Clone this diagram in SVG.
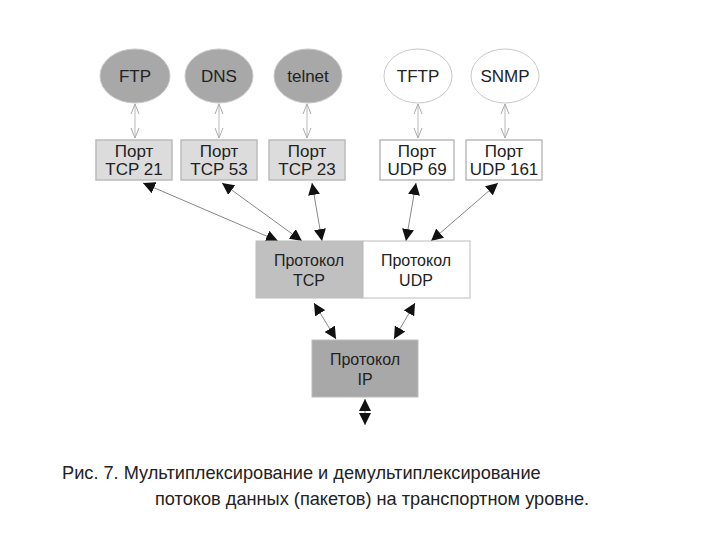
<svg xmlns="http://www.w3.org/2000/svg" width="720" height="540" viewBox="0 0 720 540">
<style>
text{font-family:"Liberation Sans",Arial,sans-serif;fill:#222;text-anchor:middle}
.n{font-size:17px}.p{font-size:17px}.q{font-size:16px}
.g{fill:#a8a8a8;stroke:#c8c8c8}.w{fill:#fff;stroke:#c8c8c8}
.pb{stroke:#bbb;stroke-width:1.5}
.la{stroke:#bbb;stroke-width:1;fill:none;marker-start:url(#ho);marker-end:url(#h)}
.da{stroke:#888;stroke-width:1;fill:none;marker-start:url(#bo);marker-end:url(#b)}
</style>
<defs>
<marker id="h" viewBox="0 0 10 10" refX="10" refY="5" markerWidth="10" markerHeight="10" markerUnits="userSpaceOnUse" orient="auto"><path d="M0,1L10,5L0,9" fill="none" stroke="#aaa"/></marker>
<marker id="ho" viewBox="0 0 10 10" refX="10" refY="5" markerWidth="10" markerHeight="10" markerUnits="userSpaceOnUse" orient="auto-start-reverse"><path d="M0,1L10,5L0,9" fill="none" stroke="#aaa"/></marker>
<marker id="b" viewBox="0 0 10 10" refX="10" refY="5" markerWidth="12" markerHeight="12" markerUnits="userSpaceOnUse" orient="auto"><path d="M0,0L10,5L0,10z" fill="#111"/></marker>
<marker id="bo" viewBox="0 0 10 10" refX="10" refY="5" markerWidth="12" markerHeight="12" markerUnits="userSpaceOnUse" orient="auto-start-reverse"><path d="M0,0L10,5L0,10z" fill="#111"/></marker>
</defs>
<g id="connectors">
<line class="la" x1="135" y1="104" x2="135" y2="138"/>
<line class="la" x1="219" y1="104" x2="219" y2="138"/>
<line class="la" x1="307" y1="104" x2="307" y2="138"/>
<line class="la" x1="418" y1="104" x2="418" y2="138"/>
<line class="la" x1="505" y1="104" x2="505" y2="138"/>
<line class="da" x1="143" y1="183" x2="278" y2="241"/>
<line class="da" x1="222" y1="183" x2="302" y2="241"/>
<line class="da" x1="312" y1="183" x2="322" y2="241"/>
<line class="da" x1="416" y1="183" x2="406" y2="241"/>
<line class="da" x1="498" y1="183" x2="431" y2="241"/>
<line class="da" x1="314" y1="303" x2="336" y2="339"/>
<line class="da" x1="415" y1="303" x2="394" y2="339"/>
<line class="da" x1="365" y1="399" x2="365" y2="425"/>
</g>
<g id="ftp"><ellipse class="g" cx="135" cy="76" rx="35" ry="27"/><text class="n" x="135" y="82">FTP</text></g>
<g id="dns"><ellipse class="g" cx="219" cy="76" rx="34" ry="27"/><text class="n" x="219" y="82">DNS</text></g>
<g id="telnet"><ellipse class="g" cx="308" cy="76" rx="34" ry="27"/><text class="n" x="308" y="82">telnet</text></g>
<g id="tftp"><ellipse class="w" cx="418" cy="76" rx="34" ry="27"/><text class="n" x="418" y="82">TFTP</text></g>
<g id="snmp"><ellipse class="w" cx="505" cy="76" rx="34" ry="27"/><text class="n" x="505" y="82">SNMP</text></g>
<g id="p21"><rect class="pb" x="96" y="140" width="76" height="40" fill="#dcdcdc"/><text class="p" x="134" y="157">Порт</text><text class="p" x="134" y="175">TCP 21</text></g>
<g id="p53"><rect class="pb" x="181" y="140" width="76" height="40" fill="#dcdcdc"/><text class="p" x="219" y="157">Порт</text><text class="p" x="219" y="175">TCP 53</text></g>
<g id="p23"><rect class="pb" x="269" y="140" width="76" height="40" fill="#dcdcdc"/><text class="p" x="307" y="157">Порт</text><text class="p" x="307" y="175">TCP 23</text></g>
<g id="p69"><rect class="pb" x="380" y="140" width="74" height="40" fill="#fff"/><text class="p" x="417" y="157">Порт</text><text class="p" x="417" y="175">UDP 69</text></g>
<g id="p161"><rect class="pb" x="466" y="140" width="76" height="40" fill="#fff"/><text class="p" x="504" y="157">Порт</text><text class="p" x="504" y="175">UDP 161</text></g>
<g id="tcp"><rect x="256" y="241" width="107" height="57" fill="#c0c0c0" stroke="#bbb"/><text class="q" x="309" y="266">Протокол</text><text class="q" x="309" y="286">TCP</text></g>
<g id="udp"><rect x="363" y="241" width="107" height="57" fill="#fff" stroke="#bbb"/><text class="q" x="416" y="266">Протокол</text><text class="q" x="416" y="286">UDP</text></g>
<g id="ip"><rect x="312" y="340" width="106" height="57" fill="#a8a8a8" stroke="#bbb"/><text class="q" x="365" y="365">Протокол</text><text class="q" x="365" y="385">IP</text></g>
<g id="caption" style="font-size:18.2px">
<text x="62" y="479" style="text-anchor:start">Рис. 7. Мультиплексирование и демультиплексирование</text>
<text x="155" y="505" style="text-anchor:start">потоков данных (пакетов) на транспортном уровне.</text>
</g>
</svg>
